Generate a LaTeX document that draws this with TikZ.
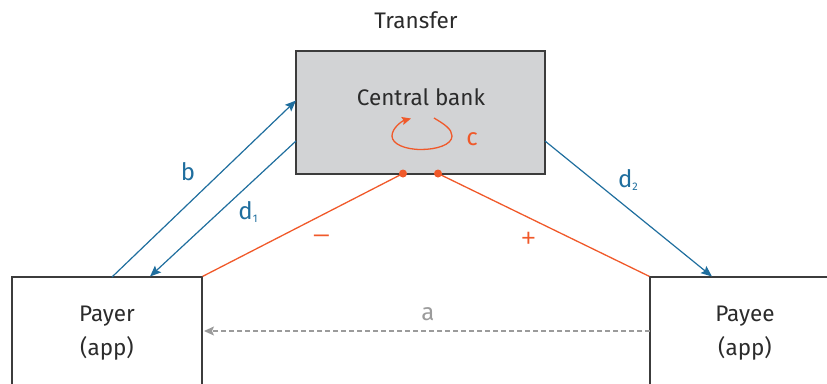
\documentclass[tikz,border=0pt]{standalone}
\usepackage{fontspec}
\setmainfont{Fira Sans}
\newfontfamily\signfont{Fira Sans Light}
\usetikzlibrary{arrows.meta}
\definecolor{cbblue}{HTML}{1F6E9E}
\definecolor{cborange}{HTML}{F0592A}
\definecolor{cbgray}{HTML}{9B9B9B}
\definecolor{cbfill}{HTML}{D2D3D5}
\definecolor{cbline}{HTML}{3C3C3C}
\definecolor{cbtext}{HTML}{2B2B2B}
\tikzset{
  box/.style={draw=cbline, line width=1.2pt, minimum width=190pt, minimum height=112pt, inner sep=0pt},
  txt/.style={font=\fontsize{22.5}{34}\selectfont, text=cbtext, align=center, inner sep=0pt},
  bluearrow/.style={draw=cbblue, line width=1.2pt, -{Stealth[length=11pt,width=9pt,inset=2pt]}},
  orangeline/.style={draw=cborange, line width=1.3pt},
  dot/.style={circle, fill=cborange, minimum size=8pt, inner sep=0pt},
  lbl/.style={font=\fontsize{24}{26}\selectfont, inner sep=0pt},
  sign/.style={font=\signfont\fontsize{34}{34}\selectfont, text=cborange, inner sep=0pt},
}
\begin{document}
\begin{tikzpicture}[x=1pt,y=-1pt]
\useasboundingbox (0,0) rectangle (827,383);
\clip (0,0) rectangle (827,383);
% boxes
\node[box, fill=cbfill, minimum width=249pt, minimum height=123pt] (cb) at (420.5,112.5) {};
\node[txt] (cbtxt) at (421,97) {Central bank};
\node[txt] (transfer) at (416,20) {Transfer};
\node[box] (payer) at (107,333) {};
\node[txt] (payertxt) at (107,333) {Payer\\(app)};
\node[box] (payee) at (745,333) {};
\node[txt] (payeetxt) at (745,333) {Payee\\(app)};
% dots
\node[dot] (dm) at (403,173.5) {};
\node[dot] (dp) at (438,173.5) {};
% orange lines
\draw[orangeline] (dm.center) -- (payer.north east);
\draw[orangeline] (dp.center) -- (payee.north west);
\node[sign] (minus) at (321.5,241) {–};
\node[sign] (plus) at (528.5,241) {+};
% loop c
\coordinate (c0) at (434,118);
\coordinate (c4) at (411,118.5);
\draw[draw=cborange, line width=1.3pt, -{Stealth[length=9pt,width=8pt,inset=1.5pt]}]
  (c0) .. controls (444,124) and (452,129) .. (452,136)
       .. controls (452,145) and (436,149.5) .. (421,149.5)
       .. controls (405,149.5) and (392,144) .. (392,136)
       .. controls (392,128) and (402,121) .. (c4);
\node[lbl, text=cborange] (clbl) at (472,139) {c};
% blue arrows
\coordinate (bs) at (112,277);
\coordinate (be) at (296,100.5);
\draw[bluearrow] (bs) -- (be);
\node[lbl, text=cbblue] (blbl) at (188,172) {b};
\coordinate (d1s) at (296,141);
\coordinate (d1e) at (150,276.5);
\draw[bluearrow] (d1s) -- (d1e);
\node[lbl, text=cbblue] (d1lbl) at (248,212) {d\raisebox{-3pt}{\fontsize{11}{11}\selectfont 1}};
\coordinate (d2s) at (545,141);
\coordinate (d2e) at (712,276.5);
\draw[bluearrow] (d2s) -- (d2e);
\node[lbl, text=cbblue] (d2lbl) at (628,180) {d\raisebox{-3pt}{\fontsize{11}{11}\selectfont 2}};
% dashed a
\coordinate (as) at (650,331);
\coordinate (ae) at (204,331);
\draw[draw=cbgray, line width=1.3pt, dash pattern=on 5pt off 3pt, -{Stealth[length=10pt,width=9pt,inset=2pt]}] (as) -- (ae);
\node[lbl, text=cbgray] (albl) at (428,314) {a};
\end{tikzpicture}
\end{document}
